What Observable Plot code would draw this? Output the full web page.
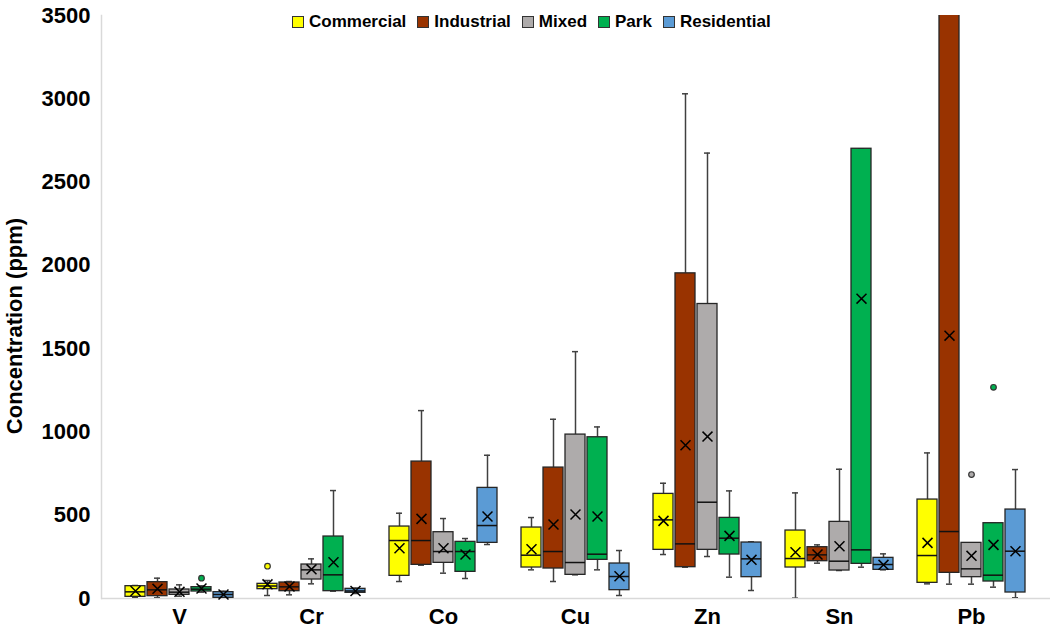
<!DOCTYPE html>
<html><head><meta charset="utf-8">
<script src="https://cdn.jsdelivr.net/npm/d3@7"></script>
<script src="https://cdn.jsdelivr.net/npm/@observablehq/plot@0.6"></script>
<style>
body{margin:0;background:#fff;}
#wrap{position:relative;width:1050px;height:637px;font-family:"Liberation Sans",Arial,sans-serif;}
#wrap svg{position:absolute;left:0;top:0;}
#legend{position:absolute;top:12px;left:292px;display:flex;align-items:center;font-weight:bold;font-size:17px;color:#000;z-index:2;line-height:20px;}
.item{display:flex;align-items:center;margin-right:11px;}
.sw{width:10px;height:10px;border:1.5px solid #333;margin-right:5px;}
</style></head><body><div id="wrap"></div>
<script>
const elements = ["V", "Cr", "Co", "Cu", "Zn", "Sn", "Pb"];
const landuses = ["Commercial", "Industrial", "Mixed", "Park", "Residential"];
const colors = ["#FFFF00", "#993300", "#AEABAB", "#00B050", "#5B9BD5"];
const yTicks = [0, 500, 1000, 1500, 2000, 2500, 3000, 3500];

// rows: elements, columns: land uses
const minV = [
  [5, 4, 14, 38, 2],
  [18, 22, 88, 44, 30],
  [102, 200, 152, 120, 324],
  [172, 102, 142, 172, 18],
  [264, 188, 252, 128, 48],
  [2, 212, 168, 188, 172],
  [88, 86, 86, 68, 4]
];
const q1V = [
  [10, 14, 22, 42, 4],
  [56, 44, 114, 44, 34],
  [136, 202, 214, 160, 334],
  [186, 180, 142, 232, 50],
  [292, 188, 292, 264, 128],
  [186, 224, 168, 208, 172],
  [94, 154, 128, 102, 36]
];
const medianV = [
  [40, 52, 38, 56, 24],
  [75, 70, 172, 142, 45],
  [348, 348, 282, 282, 438],
  [260, 282, 216, 266, 132],
  [472, 328, 578, 362, 238],
  [240, 262, 224, 292, 204],
  [258, 402, 178, 140, 284]
];
const q3V = [
  [74, 98, 54, 68, 38],
  [88, 96, 204, 372, 58],
  [432, 822, 398, 340, 664],
  [426, 786, 984, 968, 210],
  [628, 1952, 1768, 484, 336],
  [408, 308, 460, 2700, 244],
  [594, 3700, 334, 452, 534]
];
const maxV = [
  [78, 122, 82, 76, 44],
  [108, 102, 238, 648, 62],
  [512, 1128, 480, 360, 860],
  [486, 1076, 1482, 1030, 288],
  [692, 3030, 2674, 646, 340],
  [634, 322, 776, 2700, 268],
  [874, 5000, 334, 452, 774]
];
const meanV = [
  [45, 58, 40, 60, 24],
  [85, 72, 175, 218, 45],
  [302, 478, 302, 264, 492],
  [296, 444, 504, 492, 134],
  [466, 920, 972, 376, 232],
  [278, 264, 314, 1800, 202],
  [334, 1578, 256, 322, 284]
];
const outlierElement = ["V", "Cr", "Pb", "Pb"];
const outlierLanduse = ["Park", "Commercial", "Mixed", "Park"];
const outlierValue = [122, 194, 744, 1268];

const rows = elements.flatMap((e, i) => landuses.map((l, j) => ({
  element: e, landuse: l, key: e + "|" + l,
  min: minV[i][j], q1: q1V[i][j], median: medianV[i][j],
  q3: q3V[i][j], max: maxV[i][j], mean: meanV[i][j]
})));
const outliers = outlierValue.map((v, k) => ({
  key: outlierElement[k] + "|" + outlierLanduse[k], landuse: outlierLanduse[k], value: v
}));
const xDomain = [];
elements.forEach((e, i) => {
  landuses.forEach(l => xDomain.push(e + "|" + l));
  if (i < elements.length - 1) xDomain.push("gap" + i);
});

const chart = Plot.plot({
  width: 1050, height: 637,
  marginLeft: 101, marginRight: 0, marginTop: 15, marginBottom: 39,
  style: {fontFamily: '"Liberation Sans", Arial, sans-serif', fontSize: "22px", fontWeight: "bold", color: "#000", background: "#fff", overflow: "visible"},
  x: {domain: xDomain, paddingInner: 0.075, paddingOuter: 0.44, axis: null},
  y: {domain: [0, 3500], axis: null},
  color: {domain: landuses, range: colors},
  marks: [
    Plot.axisY({ticks: yTicks, tickSize: 0, tickPadding: 11, tickFormat: d => String(d), label: null, fontSize: 22, fontWeight: "bold"}),
    Plot.frame({anchor: "left", stroke: "#d9d9d9", strokeWidth: 1.5}),
    Plot.ruleY([0], {stroke: "#d9d9d9", strokeWidth: 1.5}),
    Plot.text(["Concentration (ppm)"], {text: d => d, frameAnchor: "left", textAnchor: "middle", dx: -87, dy: 19, rotate: -90, fontSize: 22, fontWeight: "bold"}),
    Plot.text(elements, {x: d => d + "|Mixed", text: d => d, frameAnchor: "bottom", dy: 25, fontSize: 22, fontWeight: "bold"}),
    Plot.ruleX(rows, {x: "key", y1: "q3", y2: "max", stroke: "#404040", strokeWidth: 1.5, clip: true}),
    Plot.ruleX(rows, {x: "key", y1: "min", y2: "q1", stroke: "#404040", strokeWidth: 1.5, clip: true}),
    Plot.tickY(rows, {x: "key", y: "max", stroke: "#404040", strokeWidth: 1.5, insetLeft: 7, insetRight: 7, clip: true}),
    Plot.tickY(rows, {x: "key", y: "min", stroke: "#404040", strokeWidth: 1.5, insetLeft: 7, insetRight: 7, clip: true}),
    Plot.barY(rows, {x: "key", y1: "q1", y2: "q3", fill: "landuse", stroke: "#262626", strokeWidth: 1.3, clip: true}),
    Plot.tickY(rows, {x: "key", y: "median", stroke: "#111", strokeWidth: 1.5}),
    Plot.dot(rows, {x: "key", y: "mean", symbol: "times", r: 4.6, stroke: "#000", strokeWidth: 1.5}),
    Plot.dot(outliers, {x: "key", y: "value", r: 2.8, fill: "landuse", stroke: "#333", strokeWidth: 1.2})
  ]
});
const wrap = document.getElementById("wrap");
wrap.appendChild(chart);
const legend = document.createElement("div");
legend.id = "legend";
landuses.forEach((l, j) => {
  const it = document.createElement("div");
  it.className = "item";
  const sw = document.createElement("span");
  sw.className = "sw";
  sw.style.background = colors[j];
  const tx = document.createElement("span");
  tx.textContent = l;
  it.appendChild(sw); it.appendChild(tx);
  legend.appendChild(it);
});
wrap.appendChild(legend);
</script></body></html>
